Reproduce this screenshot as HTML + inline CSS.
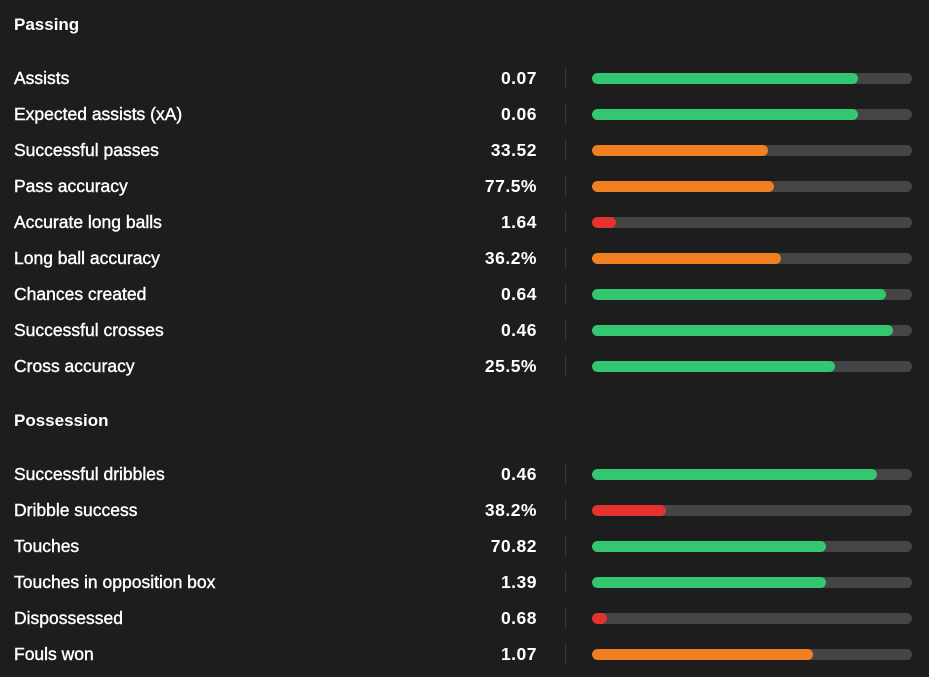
<!DOCTYPE html>
<html><head><meta charset="utf-8"><style>
body{margin:0;width:929px;height:677px;background:#1d1d1d;font-family:"Liberation Sans",sans-serif;color:#fff;overflow:hidden;position:relative}
.t{position:absolute;font-size:17px;font-weight:bold;white-space:nowrap;line-height:20px}
.h{left:14px;font-size:17px}
.lab{left:14px;font-weight:normal;font-size:17.5px;-webkit-text-stroke:0.4px #fff}
.val{right:392px;text-align:right;font-size:17.5px;letter-spacing:0.5px}
.div{position:absolute;left:565px;width:1px;height:22px;background:#3a3a3a}
.track{position:absolute;left:592px;width:320px;height:11px;border-radius:6px;background:#454545;overflow:hidden}
.fill{height:100%;border-radius:6px}
</style></head><body>
<div id="root"></div>
<script>
const labels=["Assists","Expected assists (xA)","Successful passes","Pass accuracy","Accurate long balls","Long ball accuracy","Chances created","Successful crosses","Cross accuracy","Successful dribbles","Dribble success","Touches","Touches in opposition box","Dispossessed","Fouls won"];
const values=["0.07","0.06","33.52","77.5%","1.64","36.2%","0.64","0.46","25.5%","0.46","38.2%","70.82","1.39","0.68","1.07"];
const percentiles=[83,83,55,57,7.5,59,92,94,76,89,23,73,73,4.7,69];
const sections=["Passing","Possession"];
const sectionSizes=[9,6];
const root=document.getElementById('root');
function col(p){return p>=70?'#33c771':(p>=30?'#f08022':'#e5322f');}
let y=25,i=0;
sections.forEach((s,si)=>{
  const h=document.createElement('div');h.className='t h';h.style.top=(y-10)+'px';h.textContent=s;
  
  
  root.appendChild(h);
  y+=53;
  for(let k=0;k<sectionSizes[si];k++,i++){
    const l=document.createElement('div');l.className='t lab';l.style.top=(y-10)+'px';l.textContent=labels[i];
    
    
    root.appendChild(l);
    const v=document.createElement('div');v.className='t val';v.style.top=(y-10)+'px';v.textContent=values[i];
    
    
    root.appendChild(v);
    const d=document.createElement('div');d.className='div';d.style.top=(y-11)+'px';
    
    
    root.appendChild(d);
    const tr=document.createElement('div');tr.className='track';tr.style.top=(y-5)+'px';
    
    
    const f=document.createElement('div');f.className='fill';f.style.width=percentiles[i]+'%';f.style.background=col(percentiles[i]);
    
    
    tr.appendChild(f);root.appendChild(tr);
    y+=36;
  }
  y+=-36+55;
});
</script>
</body></html>
